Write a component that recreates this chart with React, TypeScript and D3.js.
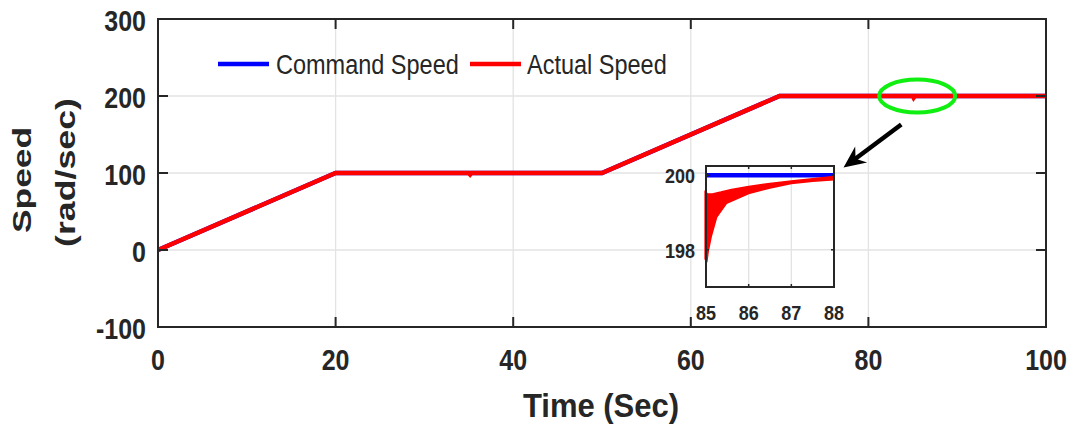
import React from 'react';
import * as d3 from 'd3';

// main plot data
const cmdTime = [0, 20, 50, 70, 100];
const cmdSpeed = [0, 100, 100, 200, 200];
const actTime = [0, 20, 35, 35.15, 35.3, 50, 70, 85, 85.1, 85.25, 100];
const actSpeed = [0, 100, 100, 98, 100, 100, 200, 200, 197.7, 200, 200];

const xTicks = [0, 20, 40, 60, 80, 100];
const yTicks = [-100, 0, 100, 200, 300];

// zoomed inset (85..88 s)
const insetTicksX = [85, 86, 87, 88];
const insetTicksY = [198, 200];
const insetCmdTime = [85, 88];
const insetCmdSpeed = [200, 200];
const bandUpperTime = [84.98, 85.03, 85.15, 85.35, 85.6, 86, 86.5, 87, 87.5, 88];
const bandUpper = [199.58, 199.5, 199.5, 199.55, 199.62, 199.7, 199.78, 199.85, 199.91, 199.97];
const bandLowerTime = [84.98, 85.02, 85.05, 85.12, 85.25, 85.48, 86, 86.5, 87, 87.5, 88];
const bandLower = [197.75, 197.68, 197.95, 198.35, 198.88, 199.25, 199.51, 199.66, 199.78, 199.84, 199.88];

const W = 1075;
const H = 429;
const FONT = '"Liberation Sans", Arial, Helvetica, sans-serif';
const AXIS = '#262626';
const GRID = '#e3e3e3';

const x = d3.scaleLinear().domain([0, 100]).range([158, 1046]);
const y = d3.scaleLinear().domain([-100, 300]).range([327, 19]);

const ix = d3.scaleLinear().domain([85, 88]).range([706, 834]);
const iy = d3.scaleLinear().domain([197, 200.25]).range([287, 166]);

// text with a vertical stretch, like the stretched original picture
const T = ({ x, y, k = 1.17, size, weight = 'bold', anchor = 'middle', children }: any) => (
  <text
    transform={`translate(${x},${y}) scale(1,${k})`}
    fontFamily={FONT}
    fontSize={size}
    fontWeight={weight}
    textAnchor={anchor}
    fill={AXIS}
  >
    {children}
  </text>
);

const App = () => {
  const line = d3.line<[number, number]>().x((d) => x(d[0])).y((d) => y(d[1]));
  const iline = d3.line<[number, number]>().x((d) => ix(d[0])).y((d) => iy(d[1]));

  const cmdPts = cmdTime.map((t, i) => [t, cmdSpeed[i]] as [number, number]);
  const actPts = actTime.map((t, i) => [t, actSpeed[i]] as [number, number]);
  const insetCmd = insetCmdTime.map((t, i) => [t, insetCmdSpeed[i]] as [number, number]);
  const band = [
    ...bandUpperTime.map((t, i) => [t, bandUpper[i]] as [number, number]),
    ...bandLowerTime.map((t, i) => [t, bandLower[i]] as [number, number]).reverse(),
  ];

  const [x0, x1] = x.range();
  const [yb, yt] = y.range();
  const [ix0, ix1] = ix.range();
  const [iyb, iyt] = iy.range();

  // arrow from the green ellipse down to the inset
  const tail = [x(83.7), y(163)];
  const tip = [x(77.2), y(107)];
  const dx = tip[0] - tail[0];
  const dy = tip[1] - tail[1];
  const len = Math.hypot(dx, dy);
  const ux = dx / len;
  const uy = dy / len;
  const hl = 22;
  const hw = 10;
  const bx = tip[0] - hl * ux;
  const by = tip[1] - hl * uy;
  const head = [
    [tip[0], tip[1]],
    [bx + hw * uy, by - hw * ux],
    [tip[0] - 15 * ux, tip[1] - 15 * uy],
    [bx - hw * uy, by + hw * ux],
  ];

  return (
    <svg width={W} height={H} style={{ position: 'absolute', left: 0, top: 0, background: '#fff' }}>
      <rect width={W} height={H} fill="#fff" />

      {/* grid */}
      {xTicks.slice(1, -1).map((t) => (
        <line key={'gx' + t} x1={x(t)} x2={x(t)} y1={yb} y2={yt} stroke={GRID} strokeWidth={1.3} />
      ))}
      {yTicks.slice(1, -1).map((t) => (
        <line key={'gy' + t} x1={x0} x2={x1} y1={y(t)} y2={y(t)} stroke={GRID} strokeWidth={1.3} />
      ))}

      {/* series */}
      <path d={line(cmdPts) || ''} fill="none" stroke="#0000ff" strokeWidth={4.5} />
      <path d={line(actPts) || ''} fill="none" stroke="#ff0000" strokeWidth={4.5} />

      {/* box and ticks */}
      <rect x={x0} y={yt} width={x1 - x0} height={yb - yt} fill="none" stroke={AXIS} strokeWidth={2} />
      {xTicks.map((t) => (
        <g key={'tx' + t}>
          <line x1={x(t)} x2={x(t)} y1={yb} y2={yb - 10} stroke={AXIS} strokeWidth={2} />
          <line x1={x(t)} x2={x(t)} y1={yt} y2={yt + 10} stroke={AXIS} strokeWidth={2} />
          <T x={x(t)} y={370} size={25}>{t}</T>
        </g>
      ))}
      {yTicks.map((t) => (
        <g key={'ty' + t}>
          <line x1={x0} x2={x0 + 10} y1={y(t)} y2={y(t)} stroke={AXIS} strokeWidth={2} />
          <line x1={x1} x2={x1 - 10} y1={y(t)} y2={y(t)} stroke={AXIS} strokeWidth={2} />
          <T x={146} y={y(t) + 12} size={25} anchor="end">{t}</T>
        </g>
      ))}

      {/* axis labels */}
      <T x={601} y={417} size={31} k={1.08}>Time (Sec)</T>
      <text
        transform={`translate(31,180) rotate(-90) scale(1.36,1)`}
        fontFamily={FONT} fontSize={26} fontWeight="bold" textAnchor="middle" fill={AXIS}
      >
        Speed
      </text>
      <text
        transform={`translate(75,172.5) rotate(-90) scale(1.3,1)`}
        fontFamily={FONT} fontSize={27.5} fontWeight="bold" textAnchor="middle" fill={AXIS}
      >
        (rad/sec)
      </text>

      {/* legend */}
      <line x1={218} x2={269} y1={64} y2={64} stroke="#0000ff" strokeWidth={4.5} />
      <T x={276} y={74} size={23.5} weight="normal" anchor="start" k={1.19}>Command Speed</T>
      <line x1={470} x2={521} y1={64} y2={64} stroke="#ff0000" strokeWidth={4.5} />
      <T x={527} y={74} size={23.5} weight="normal" anchor="start" k={1.19}>Actual Speed</T>

      {/* highlight ellipse + arrow */}
      <ellipse cx={x(85.5)} cy={y(200)} rx={38} ry={16.5} fill="none" stroke="#11ee11" strokeWidth={4} />
      <line x1={tail[0]} y1={tail[1]} x2={tip[0] - 14 * ux} y2={tip[1] - 14 * uy} stroke="#000" strokeWidth={4.5} />
      <polygon points={head.map((p) => p.join(',')).join(' ')} fill="#000" />

      {/* inset */}
      <rect x={ix0} y={iyt} width={ix1 - ix0} height={iyb - iyt} fill="#fff" />
      {insetTicksX.slice(1, -1).map((t) => (
        <line key={'igx' + t} x1={ix(t)} x2={ix(t)} y1={iyb} y2={iyt} stroke={GRID} strokeWidth={1.3} />
      ))}
      {insetTicksY.map((t) => (
        <line key={'igy' + t} x1={ix0} x2={ix1} y1={iy(t)} y2={iy(t)} stroke={GRID} strokeWidth={1.3} />
      ))}
      <path d={iline(insetCmd) || ''} fill="none" stroke="#0000ff" strokeWidth={4.5} />
      <path d={(iline(band) || '') + 'Z'} fill="#ff0000" stroke="#ff0000" strokeWidth={1.5} strokeLinejoin="round" />
      <rect x={ix0} y={iyt} width={ix1 - ix0} height={iyb - iyt} fill="none" stroke={AXIS} strokeWidth={2} />
      {insetTicksX.map((t) => (
        <g key={'itx' + t}>
          <line x1={ix(t)} x2={ix(t)} y1={iyb} y2={iyb - 3} stroke={AXIS} strokeWidth={1.5} />
          <line x1={ix(t)} x2={ix(t)} y1={iyt} y2={iyt + 3} stroke={AXIS} strokeWidth={1.5} />
          <T x={ix(t)} y={320} size={18} k={1.16}>{t}</T>
        </g>
      ))}
      {insetTicksY.map((t) => (
        <g key={'ity' + t}>
          <line x1={ix0} x2={ix0 + 3} y1={iy(t)} y2={iy(t)} stroke={AXIS} strokeWidth={1.5} />
          <line x1={ix1} x2={ix1 - 3} y1={iy(t)} y2={iy(t)} stroke={AXIS} strokeWidth={1.5} />
          <T x={695} y={iy(t) + 8} size={18} anchor="end" k={1.1}>{t}</T>
        </g>
      ))}
    </svg>
  );
};

export default App;
